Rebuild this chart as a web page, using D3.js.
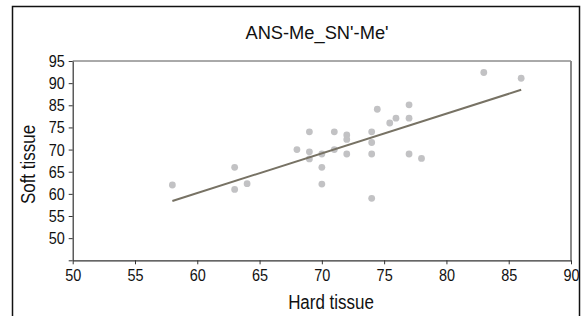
<!DOCTYPE html>
<html>
<head>
<meta charset="utf-8">
<script src="https://cdn.jsdelivr.net/npm/d3@7"></script>
<style>
  body { margin: 0; background: #fff; }
  text { font-family: "Liberation Sans", Arial, sans-serif; fill: #111; }
</style>
</head>
<body>
<div id="chart"></div>
<script>
// scatter values
const hardTissue = [58, 63, 63, 64, 68, 69, 69, 69, 70, 70, 70, 71, 71, 72, 72, 72,
                    74, 74, 74, 74, 74.45, 75.45, 75.95, 77, 77, 77, 78, 83, 86];
const softTissue = [67, 71, 66, 67.3, 75, 79, 74.5, 72.9, 74, 71, 67.2, 79, 75, 78.3, 77.3, 74,
                    79, 76.6, 74, 64, 84.1, 81, 82.1, 85.1, 82.1, 74, 73, 92.4, 91.1];

// fitted line end points
const fitX = [58, 86];
const fitY = [63.4, 88.5];

const xTicks = [50, 55, 60, 65, 70, 75, 80, 85, 90];
const yTicks = [50, 55, 60, 65, 70, 75, 80, 85, 90, 95];
const yTickLabels = ["", "50", "55", "60", "65", "70", "75", "85", "90", "95"];

const W = 584, H = 316;
const margin = {top: 61, right: 13, bottom: 55.7, left: 72.7};
const width = W - margin.left - margin.right;
const height = H - margin.top - margin.bottom;

// squeeze text horizontally (no condensed font installed)
function narrow(sel, k) {
    sel.each(function() {
        const t = d3.select(this);
        const tx = +t.attr("x") || 0, ty = +t.attr("y") || 0;
        t.attr("x", 0).attr("y", 0)
         .attr("transform", `translate(${tx},${ty}) scale(${k},1)`);
    });
}

const svg = d3.select("#chart").append("svg")
    .attr("width", W)
    .attr("height", H);

// outer frame
svg.append("rect")
    .attr("x", 12.5).attr("y", 6.5)
    .attr("width", 567).attr("height", 330)
    .attr("fill", "none").attr("stroke", "#111").attr("stroke-width", 1.5);

const g = svg.append("g")
    .attr("transform", `translate(${margin.left},${margin.top})`);

const x = d3.scaleLinear().domain([50, 90]).range([0, width]);
const y = d3.scaleLinear().domain([50, 95]).range([height, 0]);

// top and right border of the plot area
g.append("line").attr("x1", 0).attr("x2", width).attr("y1", 0).attr("y2", 0)
    .attr("stroke", "#555").attr("stroke-width", 1);
g.append("line").attr("x1", width).attr("x2", width).attr("y1", 0).attr("y2", height)
    .attr("stroke", "#8a8a8a").attr("stroke-width", 2);

const xAxis = g.append("g")
    .attr("transform", `translate(0,${height})`)
    .call(d3.axisBottom(x).tickValues(xTicks).tickSize(4).tickPadding(5).tickSizeOuter(0));

const yAxis = g.append("g")
    .call(d3.axisLeft(y).tickValues(yTicks).tickSize(4).tickPadding(4).tickSizeOuter(0)
        .tickFormat((d, i) => yTickLabels[i]));

[xAxis, yAxis].forEach(a => {
    a.selectAll("path.domain").attr("stroke", "#333").attr("stroke-width", 1.2);
    a.selectAll(".tick line").attr("stroke", "#333");
    a.selectAll(".tick text").style("font-size", "17px").attr("fill", "#111")
        .call(narrow, 0.85);
});

// dots
g.selectAll("circle")
    .data(hardTissue.map((d, i) => [d, softTissue[i]]))
    .join("circle")
    .attr("cx", d => x(d[0]))
    .attr("cy", d => y(d[1]))
    .attr("r", 3.4)
    .attr("fill", "#c2c2c4");

// fit line
g.append("path")
    .datum(fitX.map((d, i) => [d, fitY[i]]))
    .attr("d", d3.line().x(d => x(d[0])).y(d => y(d[1])))
    .attr("stroke", "#777264")
    .attr("stroke-width", 2)
    .attr("fill", "none");

// titles
svg.append("text")
    .attr("x", 317).attr("y", 38.5)
    .attr("text-anchor", "middle")
    .style("font-size", "18.3px")
    .text("ANS-Me_SN'-Me'");

svg.append("text")
    .attr("x", 331).attr("y", 309)
    .attr("text-anchor", "middle")
    .style("font-size", "19.5px")
    .text("Hard tissue")
    .call(narrow, 0.87);

svg.append("text")
    .attr("transform", "translate(35,164.5) rotate(-90) scale(0.87,1)")
    .attr("text-anchor", "middle")
    .style("font-size", "19.5px")
    .text("Soft tissue");
</script>
</body>
</html>
